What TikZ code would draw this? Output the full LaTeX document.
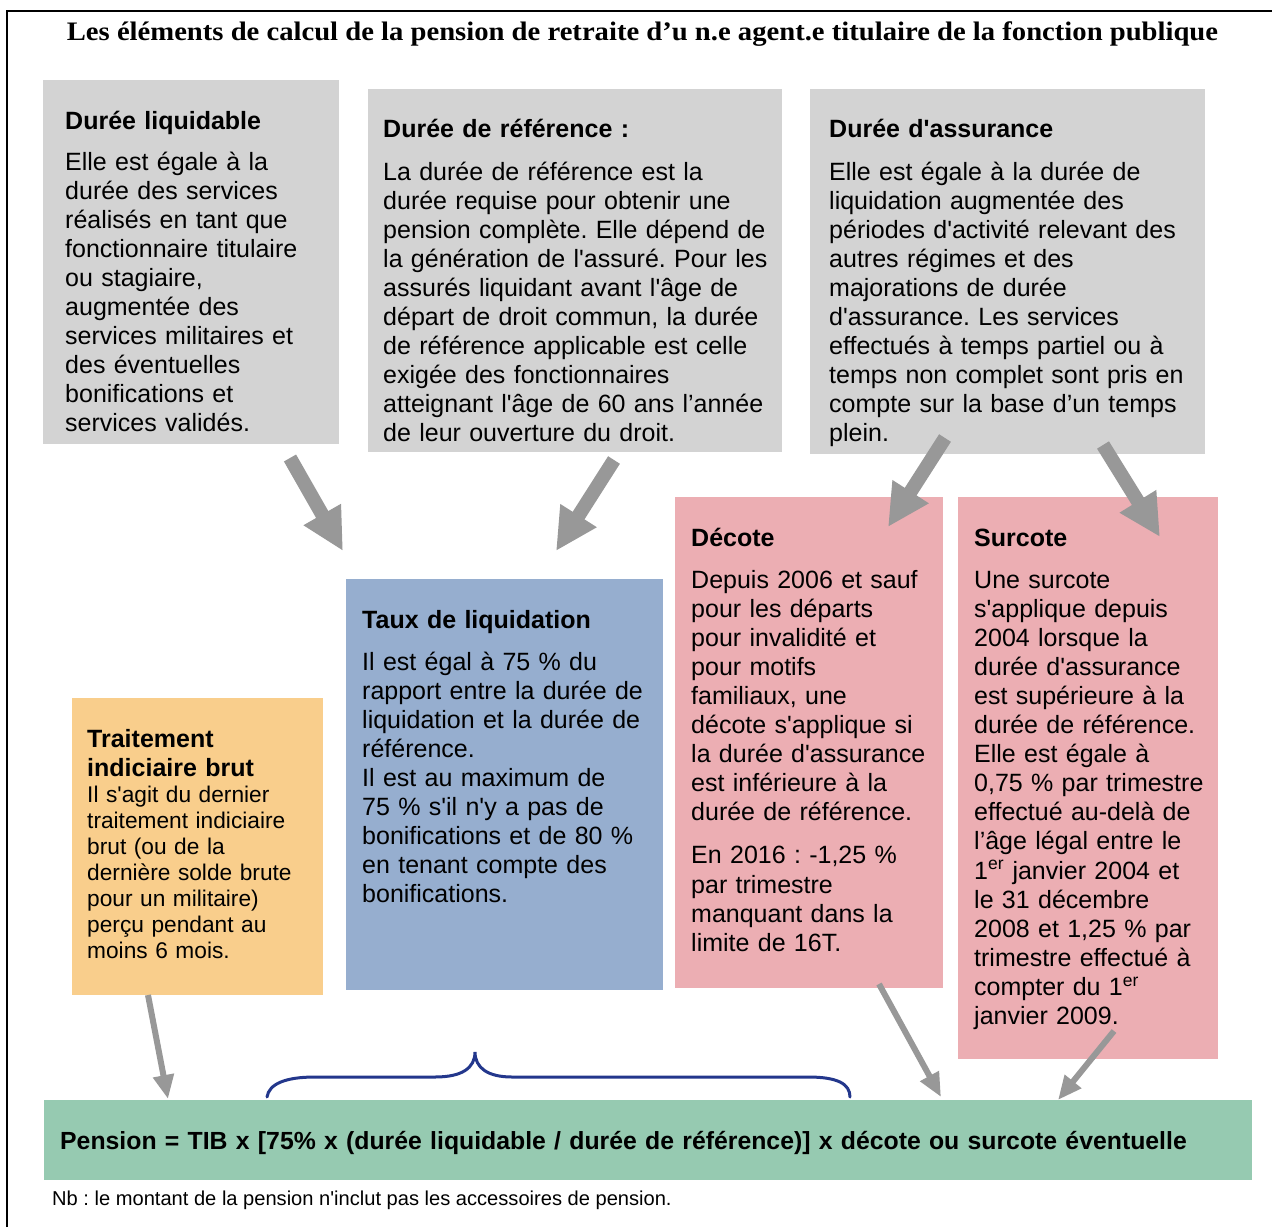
\documentclass[tikz,border=0pt]{standalone}
\usepackage{fontspec}
\setmainfont{Liberation Sans}[Ligatures=TeXOff]
\newfontfamily\titlefont{Liberation Serif}[Ligatures=TeXOff]
\usetikzlibrary{arrows.meta}

\definecolor{boxgray}{RGB}{211,211,211}
\definecolor{boxpink}{RGB}{236,174,179}
\definecolor{boxblue}{RGB}{150,174,207}
\definecolor{boxorange}{RGB}{249,206,140}
\definecolor{boxgreen}{RGB}{150,202,177}
\definecolor{arrowgray}{RGB}{152,152,152}
\definecolor{bracenavy}{RGB}{35,55,140}

\tikzset{
  panel/.style={draw=none, inner sep=0pt, outer sep=0pt, anchor=north west},
  heading/.style={anchor=base west, inner sep=0pt, align=left, text width=600pt,
    font=\frenchspacing\bfseries\fontsize{25}{29.1}\selectfont},
  bodytext/.style={anchor=base west, inner sep=0pt, align=left, text width=600pt,
    font=\frenchspacing\fontsize{25}{29.1}\selectfont},
  smalltext/.style={anchor=base west, inner sep=0pt, align=left, text width=600pt,
    font=\frenchspacing\fontsize{22.7}{26}\selectfont},
  bigarrow/.style={draw=arrowgray, line width=14pt,
    -{Triangle[width=40pt,length=42pt]}},
  smallarrow/.style={draw=arrowgray, line width=6pt,
    -{Triangle[width=20pt,length=24pt]}},
}

\begin{document}
\frenchspacing
\begin{tikzpicture}[x=1pt,y=-1pt]
\useasboundingbox (0,0) rectangle (1272,1227);
\fill[white] (0,0) rectangle (1272,1227);

% frame
\draw[line width=2pt] (7,1227) -- (7,11) -- (1272,11);

% title
\node[anchor=base, inner sep=0pt] (title) at (642.5,40.5)
  {\resizebox{1151pt}{18.8pt}{\titlefont\bfseries Les éléments de calcul de la pension de retraite d’u n.e agent.e titulaire de la fonction publique}};

% panels
\node[panel, fill=boxgray, minimum width=296pt, minimum height=364pt] (liq) at (43,80) {};
\node[panel, fill=boxgray, minimum width=414pt, minimum height=363pt] (ref) at (368,89) {};
\node[panel, fill=boxgray, minimum width=395pt, minimum height=365pt] (ass) at (810,89) {};
\node[panel, fill=boxpink, minimum width=268pt, minimum height=491pt] (dec) at (675,497) {};
\node[panel, fill=boxpink, minimum width=260pt, minimum height=562pt] (sur) at (958,497) {};
\node[panel, fill=boxblue, minimum width=317pt, minimum height=411pt] (taux) at (346,579) {};
\node[panel, fill=boxorange, minimum width=251pt, minimum height=297pt] (tib) at (72,698) {};
\node[panel, fill=boxgreen, minimum width=1208pt, minimum height=80pt] (pension) at (44,1100) {};

% Durée liquidable
\node[heading] (liqh) at (65,129) {Durée liquidable};
\node[bodytext] (liqb) at (65,170) {Elle est égale à la\\
durée des services\\
réalisés en tant que\\
fonctionnaire titulaire\\
ou stagiaire,\\
augmentée des\\
services militaires et\\
des éventuelles\\
bonifications et\\
services validés.};

% Durée de référence
\node[heading] (refh) at (383,137) {Durée de référence :};
\node[bodytext] (refb) at (383,180) {La durée de référence est la\\
durée requise pour obtenir une\\
pension complète. Elle dépend de\\
la génération de l'assuré. Pour les\\
assurés liquidant avant l'âge de\\
départ de droit commun, la durée\\
de référence applicable est celle\\
exigée des fonctionnaires\\
atteignant l'âge de 60 ans l’année\\
de leur ouverture du droit.};

% Durée d'assurance
\node[heading] (assh) at (829,137) {Durée d'assurance};
\node[bodytext] (assb) at (829,180) {Elle est égale à la durée de\\
liquidation augmentée des\\
périodes d'activité relevant des\\
autres régimes et des\\
majorations de durée\\
d'assurance. Les services\\
effectués à temps partiel ou à\\
temps non complet sont pris en\\
compte sur la base d’un temps\\
plein.};

% Décote
\node[heading] (dech) at (691,546) {Décote};
\node[bodytext] (decb) at (691,588) {Depuis 2006 et sauf\\
pour les départs\\
pour invalidité et\\
pour motifs\\
familiaux, une\\
décote s'applique si\\
la durée d'assurance\\
est inférieure à la\\
durée de référence.\\[14pt]
En 2016 : -1,25 \%\\
par trimestre\\
manquant dans la\\
limite de 16T.};

% Surcote
\node[heading] (surh) at (974,546) {Surcote};
\node[bodytext] (surb) at (974,588) {Une surcote\\
s'applique depuis\\
2004 lorsque la\\
durée d'assurance\\
est supérieure à la\\
durée de référence.\\
Elle est égale à\\
0,75 \% par trimestre\\
effectué au-delà de\\
l’âge légal entre le\\
1\textsuperscript{er} janvier 2004 et\\
le 31 décembre\\
2008 et 1,25 \% par\\
trimestre effectué à\\
compter du 1\textsuperscript{er}\\
janvier 2009.};

% Taux de liquidation
\node[heading] (tauxh) at (362,628) {Taux de liquidation};
\node[bodytext] (tauxb) at (362,670) {Il est égal à 75 \% du\\
rapport entre la durée de\\
liquidation et la durée de\\
référence.\\
Il est au maximum de\\
75 \% s'il n'y a pas de\\
bonifications et de 80 \%\\
en tenant compte des\\
bonifications.};

% Traitement indiciaire brut
\node[heading] (tibh) at (87,747) {Traitement\\indiciaire brut};
\node[smalltext] (tibb) at (87,802) {Il s'agit du dernier\\
traitement indiciaire\\
brut (ou de la\\
dernière solde brute\\
pour un militaire)\\
perçu pendant au\\
moins 6 mois.};

% formula and note
\node[heading, text width=1200pt, font=\frenchspacing\bfseries\fontsize{24.8}{29}\selectfont] (formula) at (60,1149)
  {Pension = TIB x [75\% x (durée liquidable / durée de référence)] x décote ou surcote éventuelle};
\node[anchor=base west, inner sep=0pt, font=\frenchspacing\fontsize{20.1}{24}\selectfont] (note) at (52,1205)
  {Nb : le montant de la pension n'inclut pas les accessoires de pension.};

% brace over the bracketed factor
\draw[bracenavy, line width=3pt, line cap=round]
  (267,1097) .. controls (269,1084) and (285,1077) .. (315,1077)
  -- (435,1077) .. controls (462,1077) and (475,1068) .. (475,1052)
  .. controls (475,1068) and (488,1077) .. (512,1077)
  -- (808,1077) .. controls (838,1077) and (850,1084) .. (850,1097);

% connectors
\coordinate (a1s) at (290,458);  \coordinate (a1e) at (343,551);
\coordinate (a2s) at (614,460);  \coordinate (a2e) at (556,551);
\coordinate (a3s) at (945,438);  \coordinate (a3e) at (888,527);
\coordinate (a4s) at (1103,445); \coordinate (a4e) at (1160,537);
\coordinate (a5s) at (148,995);  \coordinate (a5e) at (168,1099);
\coordinate (a6s) at (879,984);  \coordinate (a6e) at (941,1097);
\coordinate (a7s) at (1114,1031); \coordinate (a7e) at (1058,1100);

\draw[bigarrow] (a1s) -- (a1e);
\draw[bigarrow] (a2s) -- (a2e);
\draw[bigarrow] (a3s) -- (a3e);
\draw[bigarrow] (a4s) -- (a4e);
\draw[smallarrow] (a5s) -- (a5e);
\draw[smallarrow] (a6s) -- (a6e);
\draw[smallarrow] (a7s) -- (a7e);
\end{tikzpicture}
\end{document}
